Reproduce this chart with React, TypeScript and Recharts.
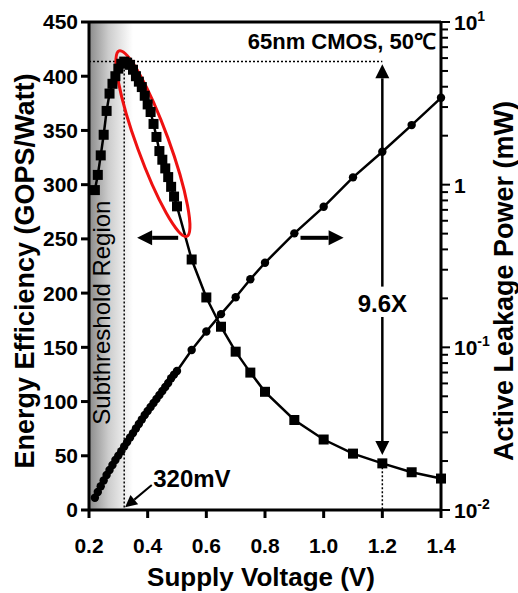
import React from 'react';
import { ComposedChart, Line, XAxis, YAxis, ReferenceLine, ReferenceArea, ReferenceDot } from 'recharts';

// supply voltage (V)
const voltage = [
  0.22, 0.23, 0.24, 0.25, 0.26, 0.27, 0.28, 0.29, 0.3, 0.31,
  0.32, 0.33, 0.34, 0.35, 0.36, 0.37, 0.38, 0.39, 0.4, 0.41,
  0.42, 0.43, 0.44, 0.45, 0.46, 0.47, 0.48, 0.49, 0.5,
  0.55, 0.6, 0.65, 0.7, 0.75, 0.8, 0.9, 1.0, 1.1, 1.2, 1.3, 1.4,
];

// energy efficiency (GOPS/Watt), squares, left axis
const efficiency = [
  295, 309, 327, 346, 368, 384, 393, 400, 407, 411.5,
  413.5, 412.5, 410.5, 406, 400, 395, 390, 382, 374, 367,
  356, 344, 331, 323, 315, 307, 298, 289, 280,
  231, 196, 169, 146, 126.7, 109, 83, 65, 52, 43, 34.8, 29,
];

// active leakage power (mW), circles, right log axis
const leakage = [
  0.0119, 0.0129, 0.014, 0.0152, 0.0164, 0.0176, 0.0189, 0.0203, 0.0216, 0.023,
  0.0246, 0.0262, 0.0279, 0.0297, 0.0317, 0.0338, 0.036, 0.0384, 0.0406, 0.043,
  0.0455, 0.0481, 0.0509, 0.0539, 0.057, 0.0603, 0.0645, 0.068, 0.0715,
  0.0963, 0.125, 0.16, 0.203, 0.262, 0.331, 0.502, 0.731, 1.109, 1.593, 2.324, 3.42,
];

const xTicks = [0.2, 0.4, 0.6, 0.8, 1.0, 1.2, 1.4];
const effTicks = [0, 50, 100, 150, 200, 250, 300, 350, 400, 450];
const powerTicks = [
  0.01, 0.02, 0.03, 0.04, 0.05, 0.06, 0.07, 0.08, 0.09,
  0.1, 0.2, 0.3, 0.4, 0.5, 0.6, 0.7, 0.8, 0.9,
  1, 2, 3, 4, 5, 6, 7, 8, 9, 10,
];

const peakV = 0.32;
const peakEff = 413.5;
const refV = 1.2;
const refEff = 43;

const data = voltage.map((v, i) => ({ v, eff: efficiency[i], pwr: leakage[i] }));

const FONT = '"Liberation Sans", Arial, Helvetica, sans-serif';

const SquareDot = (p: any) => {
  if (p.cx == null || p.cy == null) return <g key={`sq-${p.index}`} />;
  return <rect key={`sq-${p.index}`} x={p.cx - 5} y={p.cy - 5} width={10} height={10} fill="#000" />;
};

const RoundDot = (p: any) => {
  if (p.cx == null || p.cy == null) return <g key={`rd-${p.index}`} />;
  return <circle key={`rd-${p.index}`} cx={p.cx} cy={p.cy} r={4.2} fill="#000" />;
};

const PowerTick = ({ x, y, payload }: any) => {
  const lg = Math.log10(payload.value);
  const exp = Math.round(lg);
  const major = Math.abs(lg - exp) < 1e-6;
  return (
    <g>
      <line x1={x} y1={y} x2={x + (major ? 9 : 7)} y2={y} stroke="#000" strokeWidth={2} />
      {major && (
        <text x={x + 13} y={y + 8} fill="#000" fontSize={21} fontWeight="bold" fontFamily={FONT}>
          {exp === 0 ? '1' : '10'}
          {exp !== 0 && (
            <tspan dy={-9} fontSize={14}>
              {exp}
            </tspan>
          )}
        </text>
      )}
    </g>
  );
};

const XTitle = ({ viewBox }: any) => (
  <text
    x={viewBox.x + viewBox.width / 2 - 4}
    y={586}
    textAnchor="middle"
    fill="#000"
    fontSize={26}
    fontWeight="bold"
    fontFamily={FONT}
  >
    Supply Voltage (V)
  </text>
);

const YTitle = ({ viewBox, text, bx, shift }: any) => {
  const cy = viewBox.y + viewBox.height / 2 + shift;
  return (
    <text
      x={bx}
      y={cy}
      transform={`rotate(-90 ${bx} ${cy})`}
      textAnchor="middle"
      fill="#000"
      fontSize={27}
      fontWeight="bold"
      fontFamily={FONT}
    >
      {text}
    </text>
  );
};

const arrow = (width: number, head: number) => (p: any) => {
  const { x1, y1, x2, y2 } = p;
  const ang = Math.atan2(y2 - y1, x2 - x1);
  const bx = x2 - head * Math.cos(ang);
  const by = y2 - head * Math.sin(ang);
  const hw = head * 0.5;
  const px = -Math.sin(ang) * hw;
  const py = Math.cos(ang) * hw;
  return (
    <g>
      <line x1={x1} y1={y1} x2={bx} y2={by} stroke="#000" strokeWidth={width} />
      <polygon points={`${x2},${y2} ${bx + px},${by + py} ${bx - px},${by - py}`} fill="#000" />
    </g>
  );
};

const ellipseShape = (p: any) => {
  const { x1, y1, x2, y2 } = p;
  const cx = (x1 + x2) / 2;
  const cy = (y1 + y2) / 2;
  const rx = Math.hypot(x2 - x1, y2 - y1) / 2;
  const ang = (Math.atan2(y2 - y1, x2 - x1) * 180) / Math.PI;
  return (
    <ellipse
      cx={cx}
      cy={cy}
      rx={rx}
      ry={16}
      transform={`rotate(${ang} ${cx} ${cy})`}
      fill="none"
      stroke="#ee1111"
      strokeWidth={3}
    />
  );
};

const label = (text: string, size: number, weight: string, anchor: string, rotate = 0) => (p: any) => (
  <text
    x={p.cx}
    y={p.cy}
    transform={rotate ? `rotate(${rotate} ${p.cx} ${p.cy})` : undefined}
    textAnchor={anchor}
    fill="#000"
    fontSize={size}
    fontWeight={weight}
    fontFamily={FONT}
  >
    {text}
  </text>
);

export default function App() {
  return (
    <div style={{ position: 'absolute', left: 0, top: 0, width: 518, height: 593, background: '#fff', fontFamily: FONT }}>
      <ComposedChart width={518} height={593} data={data} margin={{ top: 22, right: 0, bottom: 0, left: 0 }}>
        <defs>
          <linearGradient id="subGrad" x1="0" y1="0" x2="1" y2="0">
            <stop offset="0%" stopColor="#8a8a8a" />
            <stop offset="45%" stopColor="#cdcdcd" />
            <stop offset="100%" stopColor="#ffffff" />
          </linearGradient>
        </defs>
        <XAxis
          dataKey="v"
          type="number"
          domain={[0.2, 1.4]}
          ticks={xTicks}
          interval={0}
          tickFormatter={(v: number) => v.toFixed(1)}
          height={83}
          tickSize={8}
          tickMargin={20}
          axisLine={{ stroke: '#000', strokeWidth: 3 }}
          tickLine={{ stroke: '#000', strokeWidth: 3 }}
          tick={{ fill: '#000', fontSize: 21, fontWeight: 'bold' }}
          label={<XTitle />}
        />
        <YAxis
          yAxisId="left"
          domain={[0, 450]}
          ticks={effTicks}
          interval={0}
          width={89}
          tickSize={8}
          tickMargin={3}
          axisLine={{ stroke: '#000', strokeWidth: 3 }}
          tickLine={{ stroke: '#000', strokeWidth: 3 }}
          tick={{ fill: '#000', fontSize: 21, fontWeight: 'bold' }}
          label={<YTitle text="Energy Efficiency (GOPS/Watt)" bx={34} shift={5} />}
        />
        <YAxis
          yAxisId="right"
          orientation="right"
          scale="log"
          domain={[0.01, 10]}
          allowDataOverflow
          ticks={powerTicks}
          interval={0}
          width={77}
          tickSize={0}
          tickMargin={0}
          axisLine={{ stroke: '#000', strokeWidth: 3 }}
          tickLine={false}
          tick={<PowerTick />}
          label={<YTitle text="Active Leakage Power (mW)" bx={513} shift={15} />}
        />

        <ReferenceArea yAxisId="left" x1={0.2} x2={0.35} y1={0} y2={450} fill="url(#subGrad)" fillOpacity={1} stroke="none" />
        <ReferenceLine yAxisId="left" y={450} stroke="#000" strokeWidth={3} />
        <ReferenceDot
          yAxisId="left"
          x={0.272}
          y={182}
          r={0}
          shape={label('Subthreshold Region', 24, 'normal', 'middle', -90)}
        />

        <ReferenceLine
          yAxisId="left"
          segment={[{ x: 0.2, y: peakEff }, { x: refV, y: peakEff }]}
          stroke="#000"
          strokeWidth={1.5}
          strokeDasharray="2 2"
        />
        <ReferenceLine
          yAxisId="left"
          segment={[{ x: peakV, y: peakEff }, { x: peakV, y: 0 }]}
          stroke="#000"
          strokeWidth={1.5}
          strokeDasharray="2 2"
        />
        <ReferenceLine
          yAxisId="left"
          segment={[{ x: refV, y: refEff }, { x: refV, y: 0 }]}
          stroke="#000"
          strokeWidth={1.5}
          strokeDasharray="2 2"
        />

        <Line
          yAxisId="right"
          dataKey="pwr"
          type="linear"
          stroke="#000"
          strokeWidth={2.5}
          dot={RoundDot}
          activeDot={false}
          isAnimationActive={false}
        />
        <Line
          yAxisId="left"
          dataKey="eff"
          type="linear"
          stroke="#000"
          strokeWidth={2.5}
          dot={SquareDot}
          activeDot={false}
          isAnimationActive={false}
        />

        <ReferenceLine yAxisId="left" segment={[{ x: 0.3026, y: 423.4 }, { x: 0.5333, y: 252.3 }]} shape={ellipseShape} />
        <ReferenceLine yAxisId="left" segment={[{ x: 0.504, y: 251 }, { x: 0.364, y: 251 }]} shape={arrow(4, 15)} />
        <ReferenceLine yAxisId="left" segment={[{ x: 0.921, y: 251 }, { x: 1.068, y: 251 }]} shape={arrow(4, 15)} />
        <ReferenceLine yAxisId="left" segment={[{ x: refV, y: 206 }, { x: refV, y: 411 }]} shape={arrow(2.5, 14)} />
        <ReferenceLine yAxisId="left" segment={[{ x: refV, y: 178 }, { x: refV, y: 50.7 }]} shape={arrow(2.5, 14)} />
        <ReferenceLine yAxisId="left" segment={[{ x: 0.414, y: 23 }, { x: 0.323, y: 2.5 }]} shape={arrow(2, 12)} />

        <ReferenceDot yAxisId="left" x={refV} y={182.7} r={0} shape={label('9.6X', 24, 'bold', 'middle')} />
        <ReferenceDot yAxisId="left" x={0.419} y={21.2} r={0} shape={label('320mV', 24, 'bold', 'start')} />
        <ReferenceDot yAxisId="left" x={1.383} y={425} r={0} shape={label('65nm CMOS, 50℃', 22, 'bold', 'end')} />
      </ComposedChart>
    </div>
  );
}
